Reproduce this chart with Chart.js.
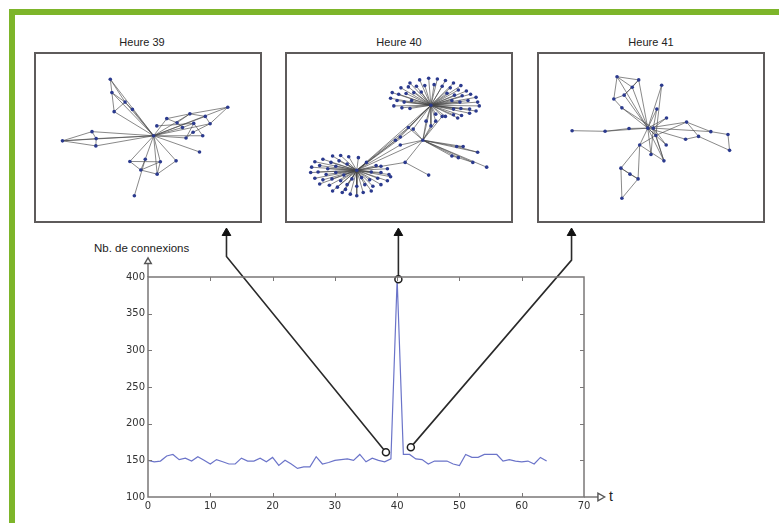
<!DOCTYPE html>
<html>
<head>
<meta charset="utf-8">
<script src="https://cdn.jsdelivr.net/npm/chart.js@4.4.1/dist/chart.umd.min.js"></script>
<style>
  html, body { margin: 0; padding: 0; background: #fff; }
  #page { position: relative; width: 779px; height: 523px; overflow: hidden; font-family: "Liberation Sans", Arial, sans-serif; }
  #frame { position: absolute; left: 9px; top: 9px; right: -10px; bottom: -10px;
           border-left: 6px solid #7db52a; border-top: 6px solid #7db52a; }
  .panel { position: absolute; top: 52px; width: 228px; height: 171px; box-sizing: border-box;
           border: 2px solid #5e5b5b; background: #fff; }
  .panel canvas { display: block; }
  .ptitle { position: absolute; top: 36px; width: 120px; margin-left: -60px; text-align: center;
            font-size: 11px; color: #222; }
  .lbl { position: absolute; font-size: 11.5px; color: #222; white-space: nowrap; }
  #main { position: absolute; left: 0; top: 0; pointer-events: none; }
</style>
</head>
<body>
<div id="page">
  <div id="frame"></div>

  <div class="ptitle" style="left:142px">Heure 39</div>
  <div class="ptitle" style="left:399px">Heure 40</div>
  <div class="ptitle" style="left:651px">Heure 41</div>

  <div class="panel" style="left:34px"><canvas id="net39" width="224" height="167"></canvas></div>
  <div class="panel" style="left:285px"><canvas id="net40" width="224" height="167"></canvas></div>
  <div class="panel" style="left:537px"><canvas id="net41" width="224" height="167"></canvas></div>

  <div class="lbl" style="left:94px; top:242px">Nb. de connexions</div>
  <div class="lbl" style="left:609px; top:488px; font-size:14px">t</div>

  <canvas id="main" width="779" height="523"></canvas>
</div>

<script>
// ---- time series: number of connections per hour ----
const HOURS = [
  0, 1, 2, 3, 4, 5, 6, 7, 8, 9, 10, 11, 12, 13, 14, 15, 16, 17, 18, 19, 20, 21,
  22, 23, 24, 25, 26, 27, 28, 29, 30, 31, 32, 33, 34, 35, 36, 37, 38, 39, 40, 41,
  42, 43, 44, 45, 46, 47, 48, 49, 50, 51, 52, 53, 54, 55, 56, 57, 58, 59, 60, 61,
  62, 63, 64
];
const CONNEXIONS = [
  150, 148, 149, 156, 158, 151, 153, 149, 155, 150, 145, 151, 148, 145, 145, 153,
  149, 149, 153, 148, 154, 143, 150, 145, 139, 141, 141, 155, 145, 147, 150, 151,
  152, 150, 158, 148, 153, 150, 148, 152, 397, 158, 158, 152, 151, 145, 149, 149,
  149, 145, 143, 158, 154, 154, 158, 158, 158, 149, 151, 149, 148, 149, 145, 154,
  149
];
const X_TICKS = [0, 10, 20, 30, 40, 50, 60, 70];
const Y_TICKS = [100, 150, 200, 250, 300, 350, 400];

// markers on the curve and the callout paths up to each panel (data units)
const MARKERS = [
  { x: 38.2, y: 161 },
  { x: 40.2, y: 397 },
  { x: 42.2, y: 168 }
];
const CALLOUTS = [
  [{ x: 38.2, y: 161 }, { x: 12.6, y: 428 }, { x: 12.6, y: 456 }],
  [{ x: 40.2, y: 397 }, { x: 40.2, y: 456 }],
  [{ x: 42.2, y: 168 }, { x: 68.0, y: 423 }, { x: 68.0, y: 456 }]
];
const CALLOUT_HEADS = [{ x: 12.6, y: 460 }, { x: 40.2, y: 460 }, { x: 68.0, y: 460 }];

// ---- networks (layout coordinates) ----
const NET39_NODES = [
  [372, 316], [237, 138], [242, 180], [283, 210], [306, 233], [249, 240],
  [88, 332], [180, 303], [193, 325], [192, 348],
  [603, 226], [485, 247], [533, 255], [413, 262], [445, 275], [497, 277],
  [548, 278], [462, 290], [382, 285], [473, 323], [525, 316], [495, 305], [515, 367],
  [298, 397], [346, 390], [393, 398], [442, 395], [332, 424], [383, 437], [312, 505]
];
const NET39_EDGES = [
  [1, 2], [1, 3], [1, 0], [2, 3], [2, 5], [3, 4], [5, 3], [5, 0], [3, 0], [4, 0], [2, 0],
  [6, 7], [6, 8], [6, 9], [7, 8], [8, 9], [7, 0], [8, 0], [9, 0], [6, 0],
  [10, 11], [10, 16], [10, 0], [11, 12], [11, 14], [12, 16], [13, 14], [13, 0], [14, 17],
  [15, 17], [15, 19], [15, 20], [16, 0], [17, 0], [18, 15], [19, 0], [20, 0], [21, 19],
  [22, 0], [11, 0], [12, 0], [13, 11], [16, 21],
  [23, 27], [23, 0], [24, 27], [24, 0], [25, 28], [25, 0], [26, 28], [26, 0], [27, 28],
  [27, 25], [28, 0], [29, 24], [23, 25]
];

const NET40_STAR_A = [
  [390, 150], [420, 140], [448, 135], [475, 137], [500, 142], [525, 150], [548, 158],
  [362, 165], [385, 162], [410, 160], [436, 158], [465, 155], [490, 160], [515, 165],
  [540, 172], [565, 175], [335, 180], [355, 185], [378, 183], [402, 180], [425, 178],
  [505, 182], [528, 188], [552, 190], [578, 185], [595, 195], [330, 198], [350, 205],
  [372, 210], [395, 205], [520, 205], [545, 210], [570, 205], [600, 210], [605, 222],
  [340, 222], [365, 228], [390, 230], [548, 230], [575, 232], [595, 238], [525, 232],
  [470, 248], [500, 255], [525, 250], [550, 252], [575, 245], [538, 260]
];
const NET40_STAR_B = [
  [150, 380], [175, 378], [200, 382], [120, 390], [95, 398], [230, 385], [145, 400],
  [170, 395], [285, 410], [85, 415], [110, 410], [135, 420], [160, 412], [195, 405],
  [255, 400], [300, 412], [320, 420], [82, 432], [105, 430], [130, 438], [160, 432],
  [185, 440], [270, 430], [300, 432], [325, 438], [95, 450], [120, 455], [148, 452],
  [175, 458], [210, 452], [240, 448], [265, 455], [290, 450], [320, 458], [330, 445],
  [110, 468], [140, 472], [165, 478], [195, 470], [225, 475], [250, 470], [275, 475],
  [300, 470], [150, 490], [180, 495], [205, 500], [225, 505], [245, 495], [270, 490],
  [190, 485]
];
const NET40_NODES = [
  [455, 220], [225, 425], [430, 330], [385, 290], [400, 295], [360, 320], [345, 330],
  [375, 400], [448, 440], [535, 350], [555, 350], [600, 368], [520, 380], [540, 385],
  [628, 415], [585, 400], [440, 270], [470, 270], [455, 285], [490, 255], [360, 345]
];
const NET40_EDGES = [
  [0, 1], [0, 3], [0, 4], [0, 5], [0, 6], [1, 3], [1, 4], [1, 5], [1, 6], [2, 0], [2, 3],
  [2, 4], [2, 20], [2, 7], [7, 8], [7, 1], [2, 9], [2, 10], [2, 11], [2, 12], [2, 13],
  [2, 14], [2, 15], [9, 10], [12, 13], [0, 16], [0, 17], [0, 18], [0, 19], [2, 16],
  [2, 17], [2, 18], [2, 19], [1, 20], [2, 1], [9, 11], [13, 15]
];

const NET41_NODES = [
  [350, 292], [255, 130], [322, 140], [302, 163], [277, 188], [245, 200], [270, 228],
  [393, 157], [378, 232], [408, 260], [116, 300], [218, 302], [292, 293], [470, 273],
  [545, 303], [598, 312], [603, 362], [507, 318], [467, 327], [325, 345], [407, 345],
  [360, 375], [400, 395], [267, 418], [295, 437], [320, 452], [270, 513], [367, 292],
  [375, 315]
];
const NET41_EDGES = [
  [1, 2], [1, 3], [1, 5], [1, 0], [2, 3], [2, 4], [2, 0], [3, 4], [4, 5], [4, 0], [5, 6],
  [6, 0], [3, 0], [7, 0], [8, 0], [9, 0], [10, 11], [11, 0], [12, 0], [11, 12], [13, 0],
  [13, 14], [13, 17], [14, 15], [15, 16], [16, 17], [17, 18], [18, 0], [14, 27], [19, 0],
  [20, 0], [21, 0], [22, 0], [23, 24], [23, 25], [24, 25], [23, 19], [25, 19], [26, 23],
  [26, 25], [19, 22], [22, 27], [20, 27], [21, 27], [8, 27], [9, 27], [0, 27], [28, 0],
  [28, 22], [28, 13], [7, 28], [19, 28], [6, 27]
];

const LINE_BLUE = '#6b74c9';
const NODE_BLUE = '#2b3a8e';
const EDGE_GREY = 'rgba(70, 70, 70, 0.8)';
const AXIS_GREY = '#7a7777';
const INK = '#1e1e1e';

Chart.defaults.font.family = '"DejaVu Sans", sans-serif';
Chart.defaults.animation = false;
Chart.defaults.devicePixelRatio = 1;

function toPt(p) { return { x: p[0], y: p[1] }; }

// edges as one broken polyline: a null y between pairs leaves a gap
function edgeData(nodes, edges) {
  const out = [];
  edges.forEach(([a, b]) => {
    out.push(toPt(nodes[a]), toPt(nodes[b]), { x: nodes[b][0], y: null });
  });
  return out;
}

function drawNetwork(id, nodes, edges, xr, yr) {
  new Chart(document.getElementById(id), {
    type: 'scatter',
    data: {
      datasets: [
        {
          data: edgeData(nodes, edges),
          showLine: true,
          spanGaps: false,
          borderColor: EDGE_GREY,
          borderWidth: 0.8,
          pointRadius: 0,
          order: 2
        },
        {
          data: nodes.map(toPt),
          pointRadius: 1.8,
          pointBackgroundColor: NODE_BLUE,
          pointBorderWidth: 0,
          order: 1
        }
      ]
    },
    options: {
      responsive: false,
      layout: { padding: 0 },
      plugins: { legend: { display: false }, tooltip: { enabled: false } },
      scales: {
        x: { type: 'linear', display: false, min: xr[0], max: xr[1] },
        y: { type: 'linear', display: false, min: yr[0], max: yr[1], reverse: true }
      }
    }
  });
}

drawNetwork('net39', NET39_NODES, NET39_EDGES, [18, 691], [71, 572]);

// heure 40: two stars around hubs 0 and 1, plus the bridge nodes
const net40All = NET40_NODES.concat(NET40_STAR_A, NET40_STAR_B);
const net40Edges = NET40_EDGES.concat(
  NET40_STAR_A.map((_, i) => [0, NET40_NODES.length + i]),
  NET40_STAR_B.map((_, i) => [1, NET40_NODES.length + NET40_STAR_A.length + i])
);
drawNetwork('net40', net40All, net40Edges, [21, 691], [71, 572]);

drawNetwork('net41', NET41_NODES, NET41_EDGES, [26, 694], [71, 572]);

// frame around the plot area with inward ticks, matplotlib style
const frameTicks = {
  id: 'frameTicks',
  afterDraw(chart) {
    const { ctx, chartArea: a, scales } = chart;
    ctx.save();
    ctx.strokeStyle = AXIS_GREY;
    ctx.lineWidth = 1.5;
    ctx.strokeRect(a.left, a.top, a.right - a.left, a.bottom - a.top);
    ctx.lineWidth = 1;
    ctx.beginPath();
    X_TICKS.slice(1, -1).forEach(v => {
      const px = Math.round(scales.x.getPixelForValue(v)) + 0.5;
      ctx.moveTo(px, a.top); ctx.lineTo(px, a.top + 4);
      ctx.moveTo(px, a.bottom); ctx.lineTo(px, a.bottom - 4);
    });
    Y_TICKS.slice(1, -1).forEach(v => {
      const py = Math.round(scales.y.getPixelForValue(v)) + 0.5;
      ctx.moveTo(a.left, py); ctx.lineTo(a.left + 4, py);
      ctx.moveTo(a.right, py); ctx.lineTo(a.right - 4, py);
    });
    ctx.stroke();
    ctx.restore();
  }
};

// Chart.js skips points that sit outside the chart area, so arrowheads
// beyond the axes are drawn here from the dataset's own element positions
const outsideMarks = {
  id: 'outsideMarks',
  afterDatasetsDraw(chart) {
    const ctx = chart.ctx;
    chart.data.datasets.forEach((ds, i) => {
      if (!ds.markRadius) return;
      ctx.save();
      ctx.fillStyle = ds.markFill;
      ctx.strokeStyle = ds.markStroke;
      ctx.lineWidth = ds.markBorder;
      chart.getDatasetMeta(i).data.forEach(el => {
        Chart.helpers.drawPoint(ctx, {
          pointStyle: 'triangle',
          radius: ds.markRadius,
          rotation: ds.markRotation || 0,
          borderWidth: ds.markBorder
        }, el.x, el.y);
      });
      ctx.restore();
    });
  }
};

const datasets = [
  {
    data: HOURS.map((h, i) => ({ x: h, y: CONNEXIONS[i] })),
    showLine: true,
    borderColor: LINE_BLUE,
    borderWidth: 1.2,
    pointRadius: 0,
    order: 6
  },
  // axis extensions with open arrowheads
  {
    data: [{ x: 70, y: 100 }, { x: 72.3, y: 100 }],
    showLine: true, borderColor: AXIS_GREY, borderWidth: 1.5, pointRadius: 0, clip: false, order: 5
  },
  {
    data: [{ x: 0, y: 400 }, { x: 0, y: 418 }],
    showLine: true, borderColor: AXIS_GREY, borderWidth: 1.5, pointRadius: 0, clip: false, order: 5
  },
  {
    data: [{ x: 72.6, y: 100 }],
    pointRadius: 0, markRadius: 4.5, markRotation: 90,
    markFill: '#fff', markStroke: '#555', markBorder: 1.4
  },
  {
    data: [{ x: 0, y: 421 }],
    pointRadius: 0, markRadius: 3.8,
    markFill: '#fff', markStroke: '#555', markBorder: 1.4
  }
];

CALLOUTS.forEach(path => {
  datasets.push({
    data: path,
    showLine: true,
    borderColor: '#2a2a2a',
    borderWidth: 1.6,
    pointRadius: 0,
    clip: false,
    order: 3
  });
});

datasets.push({
  data: CALLOUT_HEADS,
  pointRadius: 0,
  markRadius: 5,
  markFill: '#111',
  markStroke: '#111',
  markBorder: 1
});

datasets.push({
  data: MARKERS,
  pointStyle: 'circle',
  pointRadius: 3.5,
  pointBackgroundColor: '#fff',
  pointBorderColor: INK,
  pointBorderWidth: 1.5,
  clip: false,
  order: 1
});

new Chart(document.getElementById('main'), {
  type: 'scatter',
  data: { datasets },
  options: {
    responsive: false,
    layout: { padding: { top: 277, right: 195, left: 0, bottom: 0 } },
    plugins: { legend: { display: false }, tooltip: { enabled: false } },
    scales: {
      x: {
        type: 'linear', min: 0, max: 70,
        afterFit(s) { s.height = 26; },
        afterBuildTicks(s) { s.ticks = X_TICKS.map(v => ({ value: v })); },
        grid: { display: false, drawTicks: false },
        border: { display: false },
        ticks: { color: '#333', font: { size: 10 }, padding: 3, maxRotation: 0 }
      },
      y: {
        type: 'linear', min: 100, max: 400,
        afterFit(s) { s.width = 148; },
        afterBuildTicks(s) { s.ticks = Y_TICKS.map(v => ({ value: v })); },
        grid: { display: false, drawTicks: false },
        border: { display: false },
        ticks: { color: '#333', font: { size: 10 }, padding: 3 }
      }
    }
  },
  plugins: [frameTicks, outsideMarks]
});
</script>
</body>
</html>
